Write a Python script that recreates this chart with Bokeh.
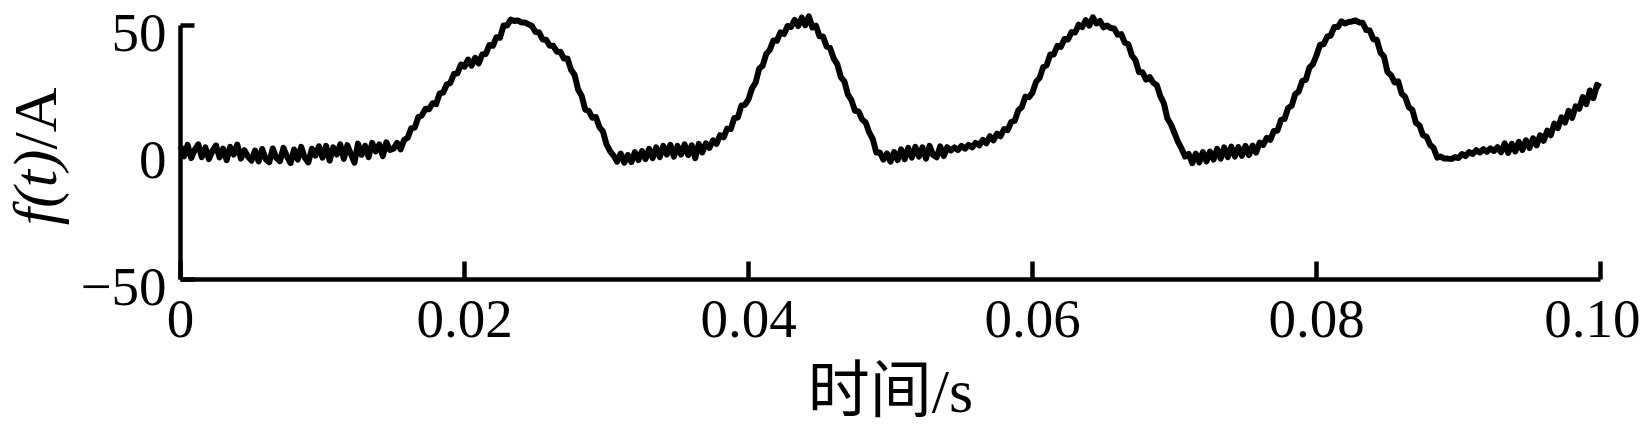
import math
from bokeh.plotting import figure
from bokeh.models import Range1d, FixedTicker, ColumnDataSource, Label, LinearAxis
from bokeh.embed import file_html
from bokeh.resources import INLINE

# time grid (ms) and current values
t_ms = [i * 0.25 for i in range(401)]
current = [
    2.5, -1.5, 3.0, -2.2, 1.0, 3.2, -1.8, 2.0, -2.6, 0.6, 2.8, -1.9, 1.5, -3.0, 2.2, -0.8, 3.1, -2.4, 0.9, -1.6,
    -3.2, 0.8, -3.5, 1.4, -2.6, -3.8, 1.6, -2.2, -3.4, 1.8, -1.6, -4.2, 1.2, -2.8, 2.2, -2.0, -3.9, 1.5, -1.2, 2.4,
    -2.0, 2.6, -3.2, 2.0, -0.8, 3.2, -2.5, 2.9, -0.6, -4.0, 3.5, -0.9, 2.6, -1.8, 3.8, 0.4, 3.2, -1.4, 4.0, 1.0,
    1.5, 3.8, 1.2, 5.0, 5.8, 9.6, 9.8, 14.0, 14.6, 17.2, 17.0, 19.4, 19.0, 23.3, 23.6, 26.8, 27.4, 30.9, 31.2, 34.6,
    33.8, 36.6, 34.2, 37.3, 35.1, 38.6, 38.8, 42.3, 42.0, 45.4, 45.2, 50.0, 50.0, 52.3, 51.8, 52.0, 51.2, 51.2, 50.5, 49.8,
    47.4, 47.3, 44.5, 44.4, 42.0, 42.0, 39.7, 39.7, 37.0, 37.0, 32.6, 30.6, 24.8, 22.3, 16.9, 16.4, 13.7, 14.0, 10.0, 8.3,
    3.2, 0.5, -1.2, -3.6, -0.4, -4.0, -1.0, -3.8, 0.2, -3.0, 0.6, -2.6, 1.4, -2.2, 2.0, -1.8, 2.6, -0.8, 3.0, -1.6,
    2.6, -0.8, 3.2, -1.0, 2.8, -2.2, 3.4, 0.0, 3.6, 1.8, 4.8, 3.4, 6.8, 6.0, 9.4, 9.2, 13.6, 13.8, 18.5, 18.8,
    20.9, 25.3, 27.5, 33.0, 34.2, 38.8, 40.4, 44.1, 44.0, 47.3, 46.6, 49.8, 49.4, 52.2, 49.8, 53.1, 50.1, 53.6, 49.2, 49.9,
    45.8, 45.7, 41.7, 41.1, 37.0, 34.8, 29.7, 28.0, 22.8, 20.6, 16.4, 16.2, 13.0, 11.8, 7.9, 5.3, 0.0, 0.0, -2.8, -0.4,
    -3.6, 0.2, -3.0, 1.2, -2.6, 1.8, -2.0, 2.2, -1.6, 2.0, -2.4, 2.6, -1.0, -1.9, 2.4, -1.4, 2.1, 0.8, 2.0, 1.0,
    2.6, 1.5, 3.0, 2.0, 3.8, 2.8, 5.0, 3.6, 6.4, 4.8, 7.4, 6.4, 9.2, 8.8, 12.0, 12.5, 16.6, 17.9, 22.0, 21.8,
    23.6, 27.8, 29.4, 33.6, 34.4, 38.6, 38.6, 42.0, 41.6, 44.7, 44.5, 47.4, 47.2, 50.3, 49.4, 52.1, 50.0, 53.2, 50.8, 51.8,
    49.3, 50.0, 49.0, 48.8, 46.4, 46.6, 43.2, 42.6, 38.2, 36.4, 31.6, 31.6, 28.7, 29.7, 27.5, 26.6, 22.2, 19.4, 13.4, 11.1,
    7.6, 4.2, 1.5, -1.6, -0.6, -4.2, -0.4, -3.9, 0.2, -3.5, 0.4, -2.8, 1.4, -2.4, 2.0, -1.8, 2.3, -1.6, 2.1, -1.3,
    2.6, -1.0, 2.7, 0.0, 3.9, 3.0, 5.8, 5.0, 8.5, 8.6, 12.8, 13.2, 17.5, 18.4, 23.0, 24.0, 28.2, 28.6, 33.4, 34.8,
    38.2, 42.4, 42.6, 45.6, 46.0, 49.4, 49.4, 51.6, 50.8, 51.4, 51.6, 52.0, 51.2, 51.1, 48.2, 48.0, 44.6, 44.4, 39.4, 37.8,
    31.7, 30.4, 27.6, 28.0, 23.2, 21.8, 17.8, 16.8, 11.7, 10.7, 6.8, 6.2, 3.0, 1.8, -2.0, -1.6, -2.4, -2.4, -2.6, -1.8,
    -2.2, -0.6, -1.4, 0.2, -0.6, 0.9, 0.0, 1.3, 0.2, 1.6, 0.6, 2.1, 0.1, 3.6, -0.2, 3.4, 0.4, 4.2, 1.0, 4.8,
    1.8, 5.6, 2.8, 6.8, 4.6, 8.6, 6.8, 11.4, 9.6, 13.8, 11.8, 16.4, 13.6, 18.2, 17.2, 21.8, 19.0, 24.4, 21.4, 26.6,
    25.8,
]
x_ticks = [0, 0.02, 0.04, 0.06, 0.08, 0.10]
x_tick_labels = ["0", "0.02", "0.04", "0.06", "0.08", "0.10"]
y_ticks = [-50, 0, 50]
y_tick_labels = ["\u221250", "0", "50"]
x_label = "时间/s"
y_label_italic = "f(t)"
y_label_unit = "/A"

t_s = [v / 1000.0 for v in t_ms]
src = ColumnDataSource(dict(t=t_s, f=current))

SERIF = "Liberation Serif"
W, H = 1640, 429
# pixel geometry of the plot area: x=0 at px 180, x=0.1 at px 1600; y=50 at px 25, y=-50 at px 279
PX_X0, PX_PER_S = 180.0, 1420.0 / 0.1
PX_Y0, PX_PER_A = 152.0, 254.0 / 100.0

x_start = -PX_X0 / PX_PER_S
x_end = (W - PX_X0) / PX_PER_S
y_end = PX_Y0 / PX_PER_A
y_start = -(H - PX_Y0) / PX_PER_A
lbl_shift = 7.0 / PX_PER_A   # tick labels sit slightly below their ticks

p = figure(width=W, height=H, output_backend="svg", toolbar_location=None,
           x_range=Range1d(x_start, x_end), y_range=Range1d(y_start, y_end),
           min_border=0)
p.extra_y_ranges = {"lbl": Range1d(y_start + lbl_shift, y_end + lbl_shift)}
p.outline_line_color = None
p.background_fill_color = "white"
p.border_fill_color = "white"
p.xgrid.visible = False
p.ygrid.visible = False

p.line("t", "f", source=src, line_color="black", line_width=6, line_join="round")

for ax in (p.xaxis[0], p.yaxis[0]):
    ax.axis_line_width = 4.5
    ax.axis_line_color = "black"
    ax.major_tick_line_width = 4.5
    ax.major_tick_line_color = "black"
    ax.minor_tick_line_color = None
    ax.major_tick_out = 0
    ax.minor_tick_out = 0
    ax.major_label_text_font = SERIF
    ax.major_label_text_font_size = "55px"
    ax.major_label_text_color = "black"

p.xaxis.fixed_location = -50
p.xaxis.bounds = (0, 0.1)
p.xaxis.ticker = FixedTicker(ticks=x_ticks)
p.xaxis.major_label_overrides = {k: v for k, v in zip(x_ticks, x_tick_labels)}
p.xaxis.major_tick_in = 18
p.xaxis.major_label_standoff = 21

p.yaxis.fixed_location = 0
p.yaxis.bounds = (-50, 50)
p.yaxis.ticker = FixedTicker(ticks=y_ticks)
p.yaxis.major_tick_in = 14
p.yaxis.major_label_text_color = None

# y tick labels (drawn by a second axis, offset a few pixels below the ticks)
ylab_axis = LinearAxis(y_range_name="lbl", fixed_location=0, bounds=(-50, 50),
                       ticker=FixedTicker(ticks=y_ticks),
                       major_label_overrides={k: v for k, v in zip(y_ticks, y_tick_labels)},
                       axis_line_color=None, major_tick_line_color=None,
                       minor_tick_line_color=None, major_tick_in=0, major_tick_out=0,
                       minor_tick_in=0, minor_tick_out=0, major_label_standoff=14,
                       major_label_orientation="horizontal",
                       major_label_text_font=SERIF, major_label_text_font_size="55px",
                       major_label_text_color="black")
p.add_layout(ylab_axis, "left")

# axis titles
p.add_layout(Label(x=0.05, y=-(390 - PX_Y0) / PX_PER_A, text=x_label,
                   text_align="center", text_baseline="middle",
                   text_font="'Liberation Serif', 'Noto Sans CJK SC'",
                   text_font_size="62px", text_color="black"))
yl_x = (34 - PX_X0) / PX_PER_S
split = (PX_Y0 - 149) / PX_PER_A
p.add_layout(Label(x=yl_x, y=split, text=y_label_italic, angle=math.pi / 2,
                   text_align="right", text_baseline="middle",
                   text_font=SERIF, text_font_style="italic",
                   text_font_size="62px", text_color="black"))
p.add_layout(Label(x=yl_x, y=split, text=y_label_unit, angle=math.pi / 2,
                   text_align="left", text_baseline="middle",
                   text_font=SERIF, text_font_style="normal",
                   text_font_size="62px", text_color="black"))

open("out.html", "w").write(file_html(p, INLINE))
